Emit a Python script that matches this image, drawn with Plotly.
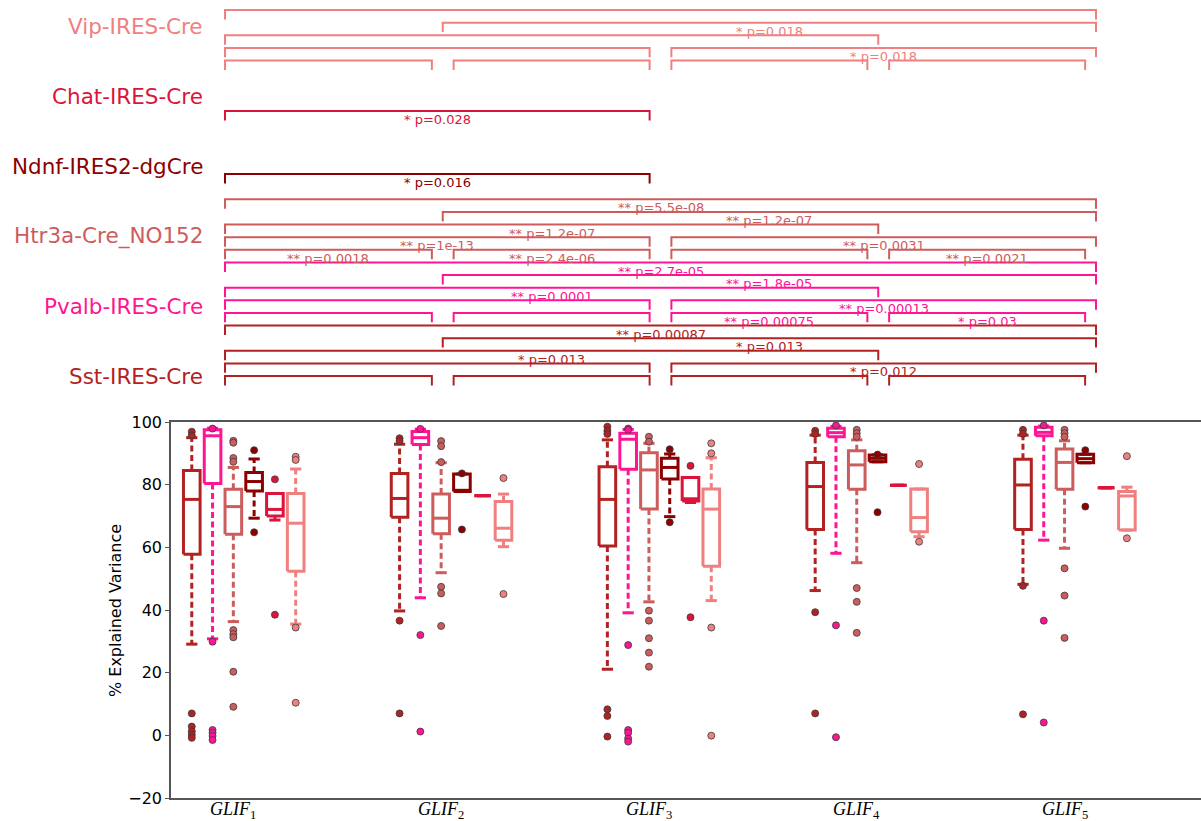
import plotly.graph_objects as go

# ---------------- data ----------------
glif_ticktext = ["<i>GLIF</i><sub>1</sub>", "<i>GLIF</i><sub>2</sub>", "<i>GLIF</i><sub>3</sub>",
                 "<i>GLIF</i><sub>4</sub>", "<i>GLIF</i><sub>5</sub>"]
cre_lines = ["Sst-IRES-Cre", "Pvalb-IRES-Cre", "Htr3a-Cre_NO152",
             "Ndnf-IRES2-dgCre", "Chat-IRES-Cre", "Vip-IRES-Cre"]
cre_colors = ["#B22222", "#FF1493", "#CD5C5C", "#8B0000", "#DC143C", "#F08080"]

# box statistics (one value per GLIF level 1..5)
sst_whislo = [29.1, 39.7, 21.1, 46.2, 48.2]
sst_q1 = [57.8, 69.6, 60.4, 65.7, 65.7]
sst_med = [75.3, 75.6, 75.3, 79.4, 79.9]
sst_q3 = [84.5, 83.6, 85.7, 87.1, 88.1]
sst_whishi = [95.0, 92.9, 94.3, 95.8, 95.8]
sst_fliers = [[96.9, 95.7, 7.0, 2.8, 1.3, 0.2, -0.8], [94.8, 93.9, 36.6, 7.0],
              [98.5, 97.2, 96.2, 8.3, 6.2, -0.4], [97.2, 96.2, 39.3, 7.0], [97.5, 96.2, 47.7, 6.7]]

pv_whislo = [30.8, 43.9, 39.1, 58.1, 62.3]
pv_q1 = [80.4, 92.8, 84.9, 95.3, 95.6]
pv_med = [95.6, 95.0, 94.5, 96.6, 96.7]
pv_q3 = [97.5, 97.0, 96.4, 98.0, 98.3]
pv_whishi = [98.0, 97.7, 97.6, 98.6, 98.7]
pv_fliers = [[97.9, 29.9, 1.7, 0.8, -0.2, -1.5], [97.8, 32.0, 1.2],
             [97.9, 97.5, 28.8, 1.7, 0.8, -1.0, -2.0], [98.9, 35.1, -0.6], [98.9, 36.6, 4.1]]

ht_whislo = [36.3, 51.9, 42.6, 55.1, 59.7]
ht_q1 = [64.2, 64.3, 72.2, 78.5, 78.5]
ht_med = [73.0, 69.3, 84.7, 86.3, 87.1]
ht_q3 = [78.5, 77.0, 90.2, 90.8, 91.4]
ht_whishi = [85.5, 87.0, 93.2, 94.3, 94.0]
ht_fliers = [[94.0, 93.4, 88.5, 87.3, 33.6, 32.3, 31.3, 20.3, 9.1],
             [93.9, 92.3, 87.2, 47.4, 45.3, 34.9],
             [95.3, 93.7, 39.8, 36.6, 31.0, 26.4, 21.9],
             [97.5, 96.4, 95.3, 47.0, 42.6, 32.7],
             [97.5, 96.4, 95.3, 53.3, 44.6, 31.1]]

nd_whislo = [69.3, 77.8, 69.8, 87.3, 87.0]
nd_q1 = [78.0, 77.8, 81.8, 87.3, 87.0]
nd_med = [81.0, 78.2, 85.5, 88.4, 88.3]
nd_q3 = [83.9, 83.4, 88.4, 89.5, 89.7]
nd_whishi = [88.2, 83.4, 89.8, 89.5, 89.7]
nd_fliers = [[91.0, 64.8], [83.6, 65.7], [91.3, 68.0], [89.6, 71.2], [91.0, 73.0]]

ch_whislo = [68.7, 76.5, 74.3, 79.8, 79.0]
ch_q1 = [70.0, 76.5, 74.8, 79.8, 79.0]
ch_med = [72.1, 76.5, 75.5, 79.8, 79.0]
ch_q3 = [77.2, 76.5, 82.3, 79.8, 79.0]
ch_whishi = [77.2, 76.5, 82.3, 79.8, 79.0]
ch_fliers = [[81.7, 38.5], [], [86.0, 37.7], [], []]

vp_whislo = [35.5, 60.2, 43.0, 63.4, 65.5]
vp_q1 = [52.4, 62.3, 54.0, 65.0, 65.5]
vp_med = [67.7, 66.1, 72.2, 69.5, 76.4]
vp_q3 = [77.2, 74.6, 78.6, 78.6, 77.8]
vp_whishi = [85.0, 77.0, 88.6, 78.6, 79.2]
vp_fliers = [[88.9, 87.9, 34.4, 10.4], [82.1, 45.1], [93.2, 90.0, 34.4, -0.1], [86.6, 61.8], [89.1, 62.9]]

# significance comparisons between GLIF levels (0-based indices), p-value or None (not labelled)
all_pairs = [(0, 1), (1, 2), (2, 3), (3, 4), (0, 2), (2, 4), (0, 3), (1, 4), (0, 4)]
sst_p = [None, None, None, None, None, 0.012, 0.013, 0.013, 0.00087]
pv_p = [None, None, 0.00075, 0.03, None, 0.00013, 0.0001, 1.8e-05, 2.7e-05]
ht_p = [0.0018, 2.4e-06, None, 0.0021, 1e-13, 0.0031, 1.2e-07, 1.2e-07, 5.5e-08]
nd_pairs = [(0, 2)]
nd_p = [0.016]
ch_pairs = [(0, 2)]
ch_p = [0.028]
vp_p = [None, None, None, None, None, 0.018, None, 0.018, None]

stats = [
    (sst_whislo, sst_q1, sst_med, sst_q3, sst_whishi, sst_fliers),
    (pv_whislo, pv_q1, pv_med, pv_q3, pv_whishi, pv_fliers),
    (ht_whislo, ht_q1, ht_med, ht_q3, ht_whishi, ht_fliers),
    (nd_whislo, nd_q1, nd_med, nd_q3, nd_whishi, nd_fliers),
    (ch_whislo, ch_q1, ch_med, ch_q3, ch_whishi, ch_fliers),
    (vp_whislo, vp_q1, vp_med, vp_q3, vp_whishi, vp_fliers),
]
comparisons = [
    (all_pairs, sst_p), (all_pairs, pv_p), (all_pairs, ht_p),
    (nd_pairs, nd_p), (ch_pairs, ch_p), (all_pairs, vp_p),
]

# ---------------- layout constants ----------------
W, H = 1201, 821
GROUP_STEP = 10
BOX_HW = 0.40
CAP_HW = 0.27
LW = 3

fig = go.Figure()

for ci, (wlo, q1, med, q3, whi, fl) in enumerate(stats):
    col = cre_colors[ci]
    bx, by, wx, wy, cx, cy, fx, fy = [], [], [], [], [], [], [], []
    for g in range(5):
        x = GROUP_STEP * g + ci
        bx += [x - BOX_HW, x + BOX_HW, x + BOX_HW, x - BOX_HW, x - BOX_HW, None,
               x - BOX_HW, x + BOX_HW, None]
        by += [q1[g], q1[g], q3[g], q3[g], q1[g], None, med[g], med[g], None]
        if whi[g] > q3[g]:
            wx += [x, x, None]
            wy += [q3[g], whi[g], None]
        if wlo[g] < q1[g]:
            wx += [x, x, None]
            wy += [q1[g], wlo[g], None]
        cx += [x - CAP_HW, x + CAP_HW, None, x - CAP_HW, x + CAP_HW, None]
        cy += [whi[g], whi[g], None, wlo[g], wlo[g], None]
        for v in fl[g]:
            fx.append(x)
            fy.append(v)
    fig.add_trace(go.Scatter(x=wx, y=wy, mode="lines", xaxis="x", yaxis="y",
                             line=dict(color=col, width=LW, dash="6px,3.5px"),
                             showlegend=False, hoverinfo="skip"))
    fig.add_trace(go.Scatter(x=cx, y=cy, mode="lines", xaxis="x", yaxis="y",
                             line=dict(color=col, width=LW), showlegend=False, hoverinfo="skip"))
    fig.add_trace(go.Scatter(x=bx, y=by, mode="lines", xaxis="x", yaxis="y",
                             line=dict(color=col, width=LW), showlegend=False, hoverinfo="skip"))
    fig.add_trace(go.Scatter(x=fx, y=fy, mode="markers", xaxis="x", yaxis="y", cliponaxis=False,
                             marker=dict(color=col, size=7, line=dict(color="#3a3a3a", width=0.8)),
                             showlegend=False, hoverinfo="skip"))

# ---------------- significance brackets ----------------
ROW_PX = 12.62
ROW0_PX = 376.0
G0_PX = 225.0
G_PX = 217.75
INSET = 0.05
TICK = 0.75
LABEL_STEP = 70.0 / ROW_PX
level_of = {(0, 1): 0, (1, 2): 0, (2, 3): 0, (3, 4): 0, (0, 2): 1, (2, 4): 1,
            (0, 3): 2, (1, 4): 3, (0, 4): 4}
inset_of = {(0, 1): (0, 1), (1, 2): (1, 1), (2, 3): (1, 1), (3, 4): (1, 1),
            (0, 2): (0, 1), (2, 4): (1, 0), (0, 3): (0, 0), (1, 4): (0, 0), (0, 4): (0, 0)}

annotations = []
for ci, (pairs, pvals) in enumerate(comparisons):
    col = cre_colors[ci]
    base = 5 * ci
    lx, ly = [], []
    for (a, b), p in zip(pairs, pvals):
        lvl = base + level_of[(a, b)]
        ia, ib = inset_of[(a, b)]
        xl = a + INSET * ia
        xr = b - INSET * ib
        lx += [xl, xl, xr, xr, None]
        ly += [lvl - TICK, lvl, lvl, lvl - TICK, None]
        if p is not None:
            stars = "**" if p < 0.01 else "*"
            annotations.append(dict(
                x=(xl + xr) / 2, y=lvl - 0.68, xref="x2", yref="y2",
                text=f"{stars} p={p:.2g}", showarrow=False, xanchor="center", yanchor="middle",
                font=dict(family="DejaVu Sans", size=13, color=col)))
    fig.add_trace(go.Scatter(x=lx, y=ly, mode="lines", xaxis="x2", yaxis="y2",
                             line=dict(color=col, width=2), showlegend=False, hoverinfo="skip"))
    annotations.append(dict(
        x=(205 - G0_PX) / G_PX, y=ci * LABEL_STEP, xref="x2", yref="y2",
        text=cre_lines[ci], showarrow=False, xanchor="right", yanchor="middle",
        font=dict(family="DejaVu Sans", size=21.5, color=col)))

annotations.append(dict(
    x=115 / W, y=1 - 611 / H, xref="paper", yref="paper", text="% Explained Variance",
    textangle=-90, showarrow=False, xanchor="center", yanchor="middle",
    font=dict(family="DejaVu Sans", size=16, color="black")))

# x tick labels (GLIF levels), placed just below the axis
for g, txt in enumerate(glif_ticktext):
    annotations.append(dict(
        x=GROUP_STEP * g + 2, y=1 - 810 / H, xref="x", yref="paper", text=txt,
        showarrow=False, xanchor="center", yanchor="middle",
        font=dict(family="Liberation Serif", size=18, color="black")))

x_left, x_right = 171.0, 1201.0
px_per_unit = 20.78
fig.update_layout(
    width=W, height=H, margin=dict(l=0, r=0, t=0, b=0, pad=0, autoexpand=False),
    paper_bgcolor="white", plot_bgcolor="rgba(0,0,0,0)", showlegend=False,
    annotations=annotations,
    xaxis=dict(domain=[x_left / W, 1.0], range=[-1, -1 + (x_right - x_left) / px_per_unit],
               showticklabels=False, ticks="", showgrid=False, zeroline=False,
               showline=True, mirror=True,
               linecolor="#555555", linewidth=1.5, automargin=False,
               anchor="y"),
    yaxis=dict(domain=[(H - 798) / H, (H - 422) / H], range=[-20, 100],
               tickvals=[-20, 0, 20, 40, 60, 80, 100], ticktext=["\u221220", "0", "20", "40", "60", "80", "100"],
               ticks="outside", ticklen=4, tickcolor="#555555",
               showgrid=False, zeroline=False, showline=True, mirror=False,
               linecolor="#555555", linewidth=1.5, automargin=False,
               tickfont=dict(family="DejaVu Sans", size=16, color="black"),
               anchor="x"),
    xaxis2=dict(domain=[0, 1], range=[-G0_PX / G_PX, (W - G0_PX) / G_PX], visible=False,
                anchor="y2", automargin=False),
    yaxis2=dict(domain=[0, 1], range=[-(H - ROW0_PX) / ROW_PX, ROW0_PX / ROW_PX], visible=False,
                anchor="x2", automargin=False),
)

fig.write_html("out.html")
